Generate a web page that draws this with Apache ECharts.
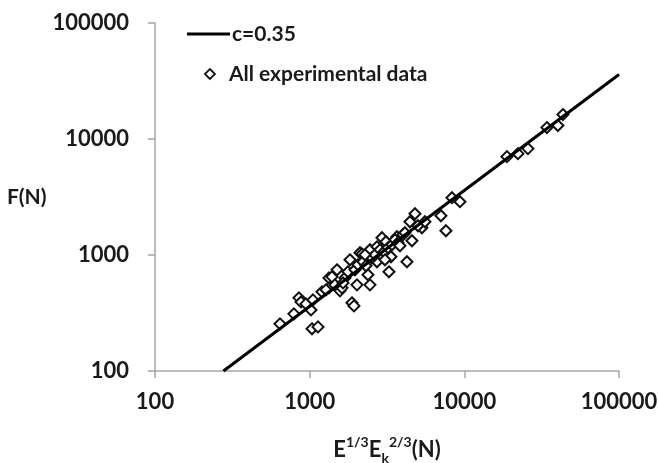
<!DOCTYPE html>
<html>
<head>
<meta charset="utf-8">
<script src="https://cdn.jsdelivr.net/npm/echarts@6/dist/echarts.min.js"></script>
<style>
  html, body { margin: 0; padding: 0; background: #fff; }
  #chart { width: 659px; height: 463px; }
</style>
</head>
<body>
<div id="chart"></div>
<script>
// Fit line c=0.35 (endpoints)
const lineX = [277, 100000];
const lineF = [100, 36000];

// Experimental data: E^(1/3)Ek^(2/3) (N) and F (N)
const expX = [643, 791, 853, 879, 946, 1050, 1020, 1035, 1132, 1333, 1333, 1394, 1502, 1570, 1618,
  1822, 1877, 1934, 2022, 2114, 2179, 2382, 2454, 2454, 2723, 2723, 2934, 3113, 3255, 3354, 3667,
  4010, 4256, 4585, 4450, 4795, 5319, 7059, 7604, 8317, 9368, 18860, 22210, 25770, 34190, 40270,
  43400, 1458, 1691, 1768, 1963, 2052, 2211, 2312, 2527, 2643, 2847, 3022, 3208, 3404, 3560, 3722,
  1201, 1275, 1642, 2278, 3068, 3834, 4130, 5012, 5562];
const expF = [255, 311, 427, 394, 379, 410, 336, 231, 240, 635, 521, 648, 745, 491, 521,
  909, 387, 364, 553, 1045, 1020, 675, 1109, 553, 1177, 874, 1408, 1300, 716, 965, 1437,
  1494, 874, 1326, 1935, 2269, 1717, 2181, 1618, 3119, 2880, 7047, 7480, 8263, 12546, 13054,
  16240, 553, 635, 716, 745, 823, 874, 807, 946, 1004, 1109, 1066, 1153, 1225, 1353, 1275,
  481, 501, 575, 1004, 909, 1201, 1555, 1787, 1935];

const xTicks = [100, 1000, 10000, 100000];
const yTicks = [100, 1000, 10000, 100000];

const FONT = 'Lato';
const axisColor = '#a6a6a6';
const textColor = '#1a1a1a';

const chart = echarts.init(document.getElementById('chart'), null, { renderer: 'canvas' });

const fmt = v => String(Math.round(v));

chart.setOption({
  animation: false,
  backgroundColor: '#fff',
  grid: { left: 155, right: 40, top: 23, bottom: 92, containLabel: false, outerBoundsMode: 'none' },
  legend: [
    {
      data: ['c=0.35'], left: 182, top: 17, itemWidth: 43, itemHeight: 3, itemGap: 0,
      icon: 'rect',
      itemStyle: { color: '#000' },
      textStyle: { fontFamily: FONT, fontWeight: 'bold', fontSize: 21, color: textColor, lineHeight: 24, padding: [0, 0, 0, -3] }
    },
    {
      data: ['All experimental data'], left: 199, top: 57, itemWidth: 10, itemHeight: 10, itemGap: 0,
      icon: 'diamond',
      itemStyle: { color: '#fff', borderColor: '#111', borderWidth: 1.8 },
      textStyle: { fontFamily: FONT, fontWeight: 'bold', fontSize: 21, color: textColor, lineHeight: 24, padding: [0, 0, 0, 9] }
    }
  ],
  xAxis: {
    type: 'log', logBase: 10, min: xTicks[0], max: xTicks[xTicks.length - 1],
    axisLine: { lineStyle: { color: axisColor, width: 1.5 } },
    axisTick: { show: true, length: 7, lineStyle: { color: axisColor, width: 1.5 } },
    minorTick: { show: false },
    splitLine: { show: false },
    axisLabel: { margin: 20, fontFamily: FONT, fontWeight: 'bold', fontSize: 22, color: textColor, formatter: fmt },
    name: '{b|E}{sup|1/3}{b|E}{sub|k}{sup|2/3}{b|(N)}',
    nameLocation: 'middle', nameGap: 64,
    nameTextStyle: {
      fontFamily: FONT, fontWeight: 'bold', fontSize: 22, color: textColor,
      rich: {
        b: { fontFamily: FONT, fontWeight: 'bold', fontSize: 22, color: textColor, lineHeight: 30 },
        sup: { fontFamily: FONT, fontWeight: 'bold', fontSize: 14, color: textColor, lineHeight: 14, verticalAlign: 'top' },
        sub: { fontFamily: FONT, fontWeight: 'bold', fontSize: 14, color: textColor, lineHeight: 14, verticalAlign: 'bottom' }
      }
    }
  },
  yAxis: {
    type: 'log', logBase: 10, min: yTicks[0], max: yTicks[yTicks.length - 1],
    axisLine: { show: true, lineStyle: { color: axisColor, width: 1.5 } },
    axisTick: { show: true, length: 7, lineStyle: { color: axisColor, width: 1.5 } },
    minorTick: { show: false },
    splitLine: { show: false },
    axisLabel: { margin: 26, fontFamily: FONT, fontWeight: 'bold', fontSize: 22, color: textColor, formatter: fmt },
    name: 'F(N)', nameLocation: 'middle', nameRotate: 0, nameGap: 103,
    nameTextStyle: { fontFamily: FONT, fontWeight: 'bold', fontSize: 21, color: textColor, padding: [26, 0, 0, 0] }
  },
  series: [
    {
      name: 'c=0.35', type: 'line', symbol: 'none', z: 3,
      data: lineX.map((x, i) => [x, lineF[i]]),
      lineStyle: { color: '#000', width: 3 },
      itemStyle: { color: '#000' }
    },
    {
      name: 'All experimental data', type: 'scatter', symbol: 'diamond', symbolSize: 11, z: 2,
      data: expX.map((x, i) => [x, expF[i]]),
      itemStyle: { color: '#fff', borderColor: '#111', borderWidth: 2, opacity: 1 }
    }
  ]
});
</script>
</body>
</html>
